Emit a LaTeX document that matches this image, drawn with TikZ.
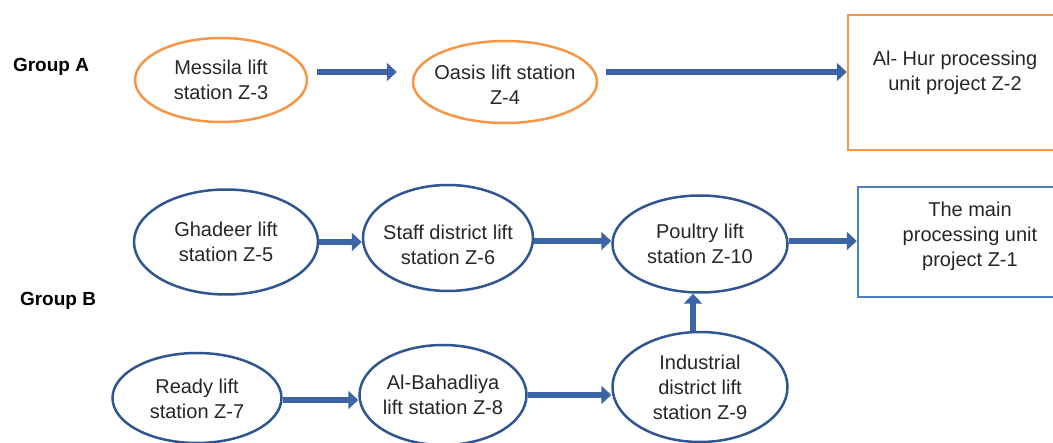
\documentclass[tikz,border=0pt]{standalone}
\usepackage{fontspec}
\setmainfont{Liberation Sans}
\usetikzlibrary{shapes.geometric,arrows.meta}

\definecolor{orangeline}{HTML}{F79646}
\definecolor{ellblue}{HTML}{2F5690}
\definecolor{boxblue}{HTML}{4F81BD}
\definecolor{flowblue}{HTML}{3C65A5}
\definecolor{txtgrey}{HTML}{262626}

\tikzset{
  stnA/.style={ellipse,draw=orangeline,line width=2.5pt,inner sep=0pt},
  stnB/.style={ellipse,draw=ellblue,line width=2.5pt,inner sep=0pt},
  unitA/.style={rectangle,draw=orangeline,line width=2.5pt,inner sep=0pt},
  unitB/.style={rectangle,draw=boxblue,line width=2.5pt,inner sep=0pt},
  txt/.style={align=center,text=txtgrey,font=\fontsize{20}{25}\selectfont},
  grp/.style={text=black,font=\fontsize{19}{23}\selectfont\bfseries},
  flow/.style={draw=flowblue,line width=6pt,-{Triangle[length=10pt,width=18pt]}}
}

\begin{document}
\begin{tikzpicture}[x=1pt,y=-1pt]

\clip (0,0) rectangle (1053,443);

% group labels
\node[grp] (grpA) at (51,67) {Group A};
\node[grp] (grpB) at (58,301) {Group B};

% group A
\node[stnA,minimum width=172,minimum height=84] (mes) at (221,80) {};
\node[txt] at (mes) {Messila lift\\station Z-3};

\node[stnA,minimum width=184,minimum height=82] (oas) at (505,82) {};
\node[txt] at ([yshift=-3pt]oas.center) {Oasis lift station\\Z-4};

\node[unitA,minimum width=214,minimum height=135] (hur) at (955,82.5) {};
\node[txt] at ([yshift=10pt]hur.center) {Al- Hur processing\\unit project Z-2};

\draw[flow] ([xshift=9pt,yshift=8pt]mes.east) -- ([xshift=-15pt,yshift=8pt]mes.east -| oas.west);
\draw[flow] ([xshift=8pt,yshift=10pt]oas.east) -- ([yshift=10pt]oas.east -| hur.west);

% group B
\node[stnB,minimum width=184,minimum height=105] (ghd) at (226,242) {};
\node[txt] at (ghd) {Ghadeer lift\\station Z-5};

\node[stnB,minimum width=170,minimum height=106] (stf) at (448,238) {};
\node[txt] at ([yshift=-7pt]stf.center) {Staff district lift\\station Z-6};

\node[stnB,minimum width=175,minimum height=97] (pou) at (700,244) {};
\node[txt] at (pou) {Poultry lift\\station Z-10};

\node[unitB,minimum width=224,minimum height=110] (main) at (970,242) {};
\node[txt] at ([yshift=6pt]main.center) {The main\\processing unit\\project Z-1};

\node[stnB,minimum width=169,minimum height=90] (rdy) at (197,398) {};
\node[txt] at ([yshift=-1pt]rdy.center) {Ready lift\\station Z-7};

\node[stnB,minimum width=167,minimum height=100] (bah) at (443,395) {};
\node[txt] at (bah) {Al-Bahadliya\\lift station Z-8};

\node[stnB,minimum width=175,minimum height=110] (ind) at (700,387) {};
\node[txt] at (ind) {Industrial\\district lift\\station Z-9};

\draw[flow] (ghd.east) -- (ghd.east -| stf.west);
\draw[flow] ([yshift=-3pt]stf.east) -- ([yshift=-3pt]stf.east -| pou.west);
\draw[flow] ([yshift=3pt]pou.east) -- ([yshift=3pt]pou.east -| main.west);
\draw[flow] ([yshift=-2pt]rdy.east) -- ([yshift=-2pt]rdy.east -| bah.west);
\draw[flow] (bah.east) -- (bah.east -| ind.west);
\draw[flow] ([xshift=-7pt]ind.north) -- ([xshift=-7pt]pou.south);

\end{tikzpicture}
\end{document}
